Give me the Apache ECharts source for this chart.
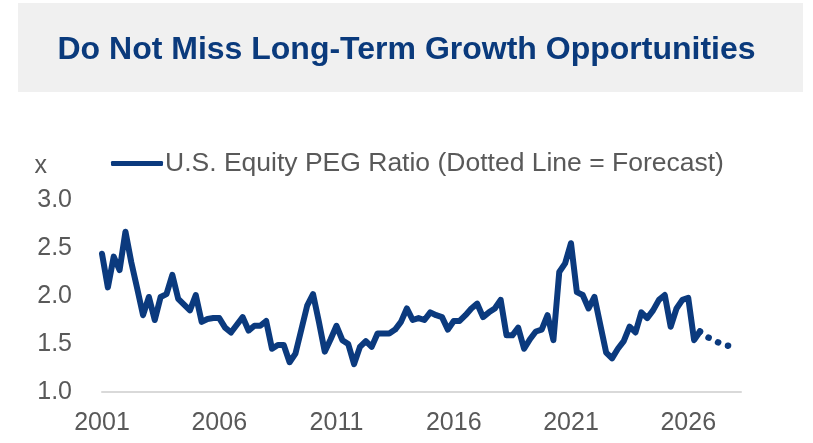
<!DOCTYPE html>
<html>
<head>
<meta charset="utf-8">
<script src="https://cdn.jsdelivr.net/npm/echarts@6/dist/echarts.min.js"></script>
<style>
  html, body { margin: 0; padding: 0; background: #fff; }
  #main { width: 813px; height: 443px; }
</style>
</head>
<body>
<div id="main"></div>
<script>
// quarterly categories, 2001 Q1 .. 2028 Q2
var firstYear = 2001;
var quarterCount = 110;
var categories = [];
for (var i = 0; i < quarterCount; i++) {
    categories.push((firstYear + Math.floor(i / 4)) + ' Q' + (i % 4 + 1));
}

// actual PEG ratio, 2001 Q1 .. 2026 Q3
var pegActual = [
    2.44, 2.09, 2.41, 2.27, 2.67, 2.35, 2.08, 1.80, 1.99, 1.75,
    1.99, 2.02, 2.22, 1.97, 1.91, 1.85, 2.01, 1.73, 1.76, 1.77,
    1.77, 1.67, 1.62, 1.70, 1.78, 1.64, 1.69, 1.69, 1.74, 1.45,
    1.49, 1.49, 1.31, 1.40, 1.65, 1.90, 2.02, 1.73, 1.42, 1.55,
    1.69, 1.54, 1.50, 1.29, 1.47, 1.53, 1.47, 1.61, 1.61, 1.61,
    1.65, 1.73, 1.87, 1.75, 1.77, 1.75, 1.83, 1.80, 1.78, 1.65,
    1.74, 1.74, 1.80, 1.87, 1.92, 1.78, 1.83, 1.87, 1.96, 1.59,
    1.59, 1.67, 1.45, 1.55, 1.63, 1.65, 1.80, 1.54, 2.25, 2.34,
    2.55, 2.04, 2.01, 1.87, 1.99, 1.70, 1.41, 1.35, 1.45, 1.53,
    1.68, 1.62, 1.83, 1.77, 1.85, 1.96, 2.01, 1.68, 1.87, 1.96,
    1.98, 1.54, 1.63
];

// forecast, starting at the last actual quarter
var forecastStart = 102;
var pegForecast = [1.63, 1.58, 1.55, 1.52, 1.49, 1.48, 1.47];

var yTicks = [1.0, 1.5, 2.0, 2.5, 3.0];

var forecastData = [];
for (var k = 0; k < quarterCount; k++) {
    var f = k - forecastStart;
    forecastData.push(f >= 0 && f < pegForecast.length ? pegForecast[f] : null);
}

var navy = '#0b3a7e';
var grey = '#595959';
var font = '"Liberation Sans", Arial, sans-serif';

var chart = echarts.init(document.getElementById('main'));
chart.setOption({
    animation: false,
    textStyle: { fontFamily: font },
    graphic: [{
        type: 'rect',
        left: 18, top: 3,
        shape: { width: 785, height: 89 },
        style: { fill: '#f0f0f0' },
        silent: true,
        z: -1
    }],
    title: {
        text: 'Do Not Miss Long-Term Growth Opportunities',
        left: 'center',
        top: 29,
        textStyle: { fontFamily: font, fontSize: 32, fontWeight: 'bold', color: '#0a3a7c' }
    },
    legend: {
        data: ['U.S. Equity PEG Ratio (Dotted Line = Forecast)'],
        left: 106,
        top: 145,
        icon: 'roundRect',
        itemWidth: 52,
        itemHeight: 5,
        textStyle: { fontFamily: font, fontSize: 26.5, color: grey, padding: [0, 0, 0, -3] }
    },
    grid: { left: 102, right: 72, top: 200, bottom: 51, containLabel: false },
    xAxis: {
        type: 'category',
        data: categories,
        boundaryGap: false,
        axisLine: { lineStyle: { color: '#d9d9d9', width: 2 } },
        axisTick: { show: false },
        axisLabel: {
            interval: 19,
            margin: 19,
            fontSize: 25,
            color: grey,
            formatter: function (v) { return v.slice(0, 4); }
        }
    },
    yAxis: {
        type: 'value',
        min: yTicks[0],
        max: yTicks[yTicks.length - 1],
        interval: 0.5,
        name: 'x',
        nameLocation: 'end',
        nameGap: 21,
        nameTextStyle: { fontSize: 25, color: grey, align: 'right', padding: [0, 55, 0, 0] },
        axisLine: { show: false },
        axisTick: { show: false },
        splitLine: { show: false },
        axisLabel: {
            margin: 30,
            fontSize: 25,
            color: grey,
            formatter: function (v) { return v.toFixed(1); }
        }
    },
    series: [{
        name: 'U.S. Equity PEG Ratio (Dotted Line = Forecast)',
        type: 'line',
        data: pegActual,
        showSymbol: false,
        symbol: 'none',
        itemStyle: { color: navy },
        lineStyle: { color: navy, width: 6, join: 'round', cap: 'round' }
    }, {
        name: 'Forecast',
        type: 'line',
        data: forecastData,
        showSymbol: false,
        symbol: 'none',
        itemStyle: { color: navy },
        lineStyle: { color: navy, width: 6.5, type: [0.1, 10.5], cap: 'round' }
    }]
});
</script>
</body>
</html>
